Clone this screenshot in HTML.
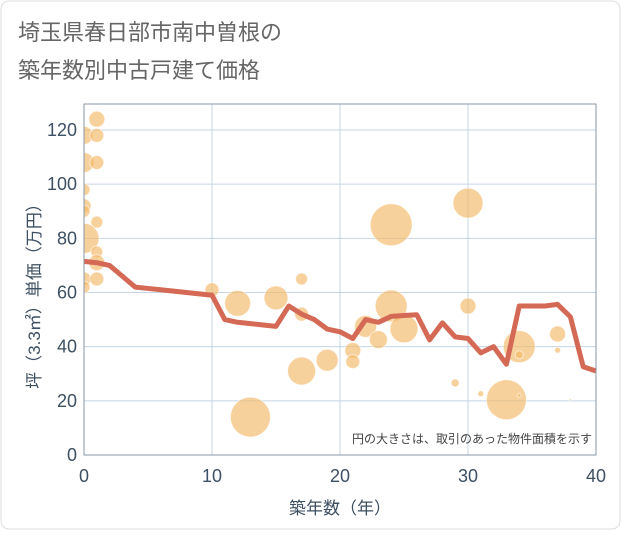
<!DOCTYPE html>
<html><head><meta charset="utf-8">
<style>
html,body{margin:0;padding:0;background:#fff;}
body{width:621px;height:530px;overflow:hidden;font-family:"Liberation Sans","Noto Sans CJK JP",sans-serif;}
</style></head>
<body>
<svg width="621" height="530" xmlns="http://www.w3.org/2000/svg" style="font-family:'Liberation Sans','Noto Sans CJK JP',sans-serif">
<defs><clipPath id="pc"><rect x="84" y="104" width="512" height="351"/></clipPath></defs>
<rect x="1" y="1" width="619" height="528" rx="8" fill="#fff" stroke="#ddd"/>
<text x="18" y="40" font-size="22" fill="#666">埼玉県春日部市南中曽根の</text>
<text x="18" y="78" font-size="22" fill="#666">築年数別中古戸建て価格</text>
<g id="grid"></g>
<g id="bubbles" clip-path="url(#pc)"></g>
<path id="line" fill="none" stroke="#d46a55" stroke-width="5" stroke-linejoin="round"/>
<rect x="84" y="104" width="512" height="351" fill="none" stroke="#8a97a5" stroke-width="1"/>
<g id="ticks"></g>
<text x="592" y="443" font-size="12" fill="#444" text-anchor="end">円の大きさは、取引のあった物件面積を示す</text>
<text x="340" y="514" font-size="17" fill="#3d4f62" text-anchor="middle">築年数（年）</text>
<text transform="translate(40,292) rotate(-90)" font-size="17" fill="#3d4f62" text-anchor="middle">坪（3.3㎡）単価（万円）</text>
</svg>
<script>
const xTicks=[0,10,20,30,40];
const yTicks=[0,20,40,60,80,100,120];
const lineX=[0,1,2,3,4,5,6,7,8,9,10,11,12,13,14,15,16,17,18,19,20,21,22,23,24,25,26,27,28,29,30,31,32,33,34,35,36,37,38,39,40];
const lineY=[71.5,71,70,66,62,61.5,61,60.5,60,59.5,59,50,49,48.5,48,47.5,55,52,50,46.5,45.5,43,50,49,51.2,51.5,51.8,42.5,48.8,43.6,43,37.7,40,33.5,55,55,55,55.6,51,32.6,31];
const bubX=[1,0,1,0,1,0,0,0,1,0,1,1,0,1,0,10,12,15,17,17,17,13,19,24,30,21,21,22,23,24,25,30,29,31,33,34,34,34,37,37,38];
const bubY=[124,118,118,108,108,98,92,90,86,80,75,71,65,65,62,61,56,58,65,52,31,14,35,85,93,38.6,34.5,47.5,42.6,55,46.6,55,26.6,22.6,20.4,40,37,22,44.7,38.7,20.4];
const bubR=[8,9,7,10,7,6,7,6,6,15,6,8,7,7,6,7,13,12,6,7,14,20,11,21,15,8,7,11,9,16,14,8,4,3,20,16,4,2,8,3,1];
const X0=84,X1=596,Y0=455,Y1=104,XMAX=40,YMAX=129.6;
const sx=v=>X0+(X1-X0)*v/XMAX, sy=v=>Y0-(Y0-Y1)*v/YMAX;
const NS="http://www.w3.org/2000/svg";
const grid=document.getElementById('grid'),ticks=document.getElementById('ticks');
function mk(t,a){const e=document.createElementNS(NS,t);for(const k in a)e.setAttribute(k,a[k]);return e;}
xTicks.forEach(v=>{
 const l=mk('line',{x1:sx(v),x2:sx(v),y1:Y1,y2:Y0,stroke:'#c5d5e5'});
 
 
 grid.appendChild(l);
 const t=mk('text',{x:sx(v),y:482,'font-size':18,fill:'#3d4f62','text-anchor':'middle'});
 t.textContent=v;
 
 
 ticks.appendChild(t);
});
yTicks.forEach(v=>{
 const l=mk('line',{x1:X0,x2:X1,y1:sy(v),y2:sy(v),stroke:'#c5d5e5'});
 
 
 grid.appendChild(l);
 const t=mk('text',{x:77,y:sy(v)+6,'font-size':18,fill:'#3d4f62','text-anchor':'end'});
 t.textContent=v;
 
 
 ticks.appendChild(t);
});
const bg=document.getElementById('bubbles');
bubX.forEach((v,i)=>{
 const c=mk('circle',{cx:sx(v),cy:sy(bubY[i]),r:bubR[i],fill:'#f2b865','fill-opacity':0.65,stroke:'#fff','stroke-opacity':0.6});
 
 
 bg.appendChild(c);
});
document.getElementById('line').setAttribute('d',lineX.map((v,i)=>(i?'L':'M')+sx(v)+','+sy(lineY[i])).join(''));
</script>
</body></html>
